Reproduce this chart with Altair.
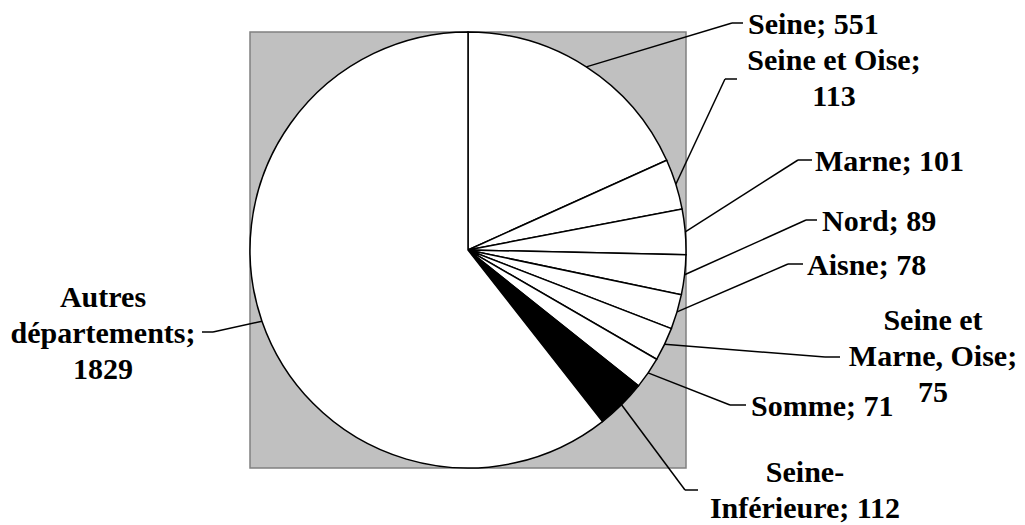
import altair as alt
import pandas as pd

# ---- data ----
categories = ["Seine", "Seine et Oise", "Marne", "Nord", "Aisne",
              "Seine et Marne, Oise", "Somme", "Seine-Inférieure",
              "Autres départements"]
values = [551, 113, 101, 89, 78, 75, 71, 112, 1829]
label_texts = ["Seine; 551", "Seine et Oise;\n113", "Marne; 101", "Nord; 89",
               "Aisne; 78", "Seine et\nMarne, Oise;\n75", "Somme; 71",
               "Seine-\nInférieure; 112", "Autres\ndépartements;\n1829"]

# ---- label layout (manually placed labels, px offsets from the pie centre) ----
elbow_dx = [264, 257, 330, 338, 320, 357, 262, 217, -255]
elbow_dy = [-227, -171, -90, -30, 14, 107, 155, 240, 82]
tail_len = [11, 12, 14, 11, 15, 15, 16, 13, -11]
text_dx = [280, 366, 347, 354, 339, 465, 283, 337, -365]
text_dy = [-225, -171, -88, -28, 16, 107, 157, 241, 84]   # centre of each text block
text_align = ["left", "center", "left", "left", "left", "center", "left", "center", "center"]

SIZE = 436
C = SIZE / 2
R = SIZE / 2
LINE_H = 36

# first-line position of each (possibly multi-line) label block
n_lines = [t.count("\n") + 1 for t in label_texts]
first_dy = [d - (n - 1) * LINE_H / 2 for d, n in zip(text_dy, n_lines)]

df = pd.DataFrame({
    "category": categories,
    "value": values,
    "label": label_texts,
    "order": list(range(len(categories))),
    "edx": elbow_dx, "edy": elbow_dy, "tail": tail_len,
    "tdx": text_dx, "tdy": first_dy, "align": text_align,
})

base = alt.Chart(df).transform_window(
    cum="sum(value)", sort=[alt.SortField("order")], frame=[None, 0]
).transform_joinaggregate(
    total="sum(value)"
).transform_calculate(
    mid="(datum.cum - datum.value/2) / datum.total * 2 * PI",
).transform_calculate(
    x0=f"{C} + {R} * sin(datum.mid)",
    y0=f"{C} - {R} * cos(datum.mid)",
    ex=f"{C} + datum.edx",
    ey=f"{C} + datum.edy",
    tx=f"{C} + datum.tdx",
    ty=f"{C} + datum.tdy",
).transform_calculate(
    ex2="datum.ex + datum.tail",
)

pie = alt.Chart(df).mark_arc(stroke="black", strokeWidth=1.5).encode(
    theta=alt.Theta("value:Q", stack=True),
    order=alt.Order("order:Q"),
    fill=alt.condition(alt.datum.category == "Seine-Inférieure",
                       alt.value("black"), alt.value("white")),
)

leader1 = base.mark_rule(color="black", strokeWidth=1.5).encode(
    x=alt.X("x0:Q", scale=None), y=alt.Y("y0:Q", scale=None),
    x2="ex:Q", y2="ey:Q",
)
leader2 = base.mark_rule(color="black", strokeWidth=1.5).encode(
    x=alt.X("ex:Q", scale=None), y=alt.Y("ey:Q", scale=None),
    x2="ex2:Q", y2="ey:Q",
)

text_props = dict(font="Liberation Serif", fontWeight="bold", fontSize=30,
                  lineBreak="\n", lineHeight=LINE_H, baseline="middle", color="black")

labels_left = base.transform_filter(alt.datum.align == "left").mark_text(
    align="left", **text_props
).encode(
    x=alt.X("tx:Q", scale=None), y=alt.Y("ty:Q", scale=None), text="label:N",
)
labels_center = base.transform_filter(alt.datum.align == "center").mark_text(
    align="center", **text_props
).encode(
    x=alt.X("tx:Q", scale=None), y=alt.Y("ty:Q", scale=None), text="label:N",
)

chart = alt.layer(pie, leader1, leader2, labels_left, labels_center).properties(
    width=SIZE, height=SIZE,
    autosize=alt.AutoSizeParams(type="none"),
    padding={"left": 242, "top": 24, "right": 331, "bottom": 57},
).configure_view(
    fill="#C0C0C0", stroke="#808080", strokeWidth=1.5,
)

chart.save("out.html", embed_options={"renderer": "svg", "actions": False})
